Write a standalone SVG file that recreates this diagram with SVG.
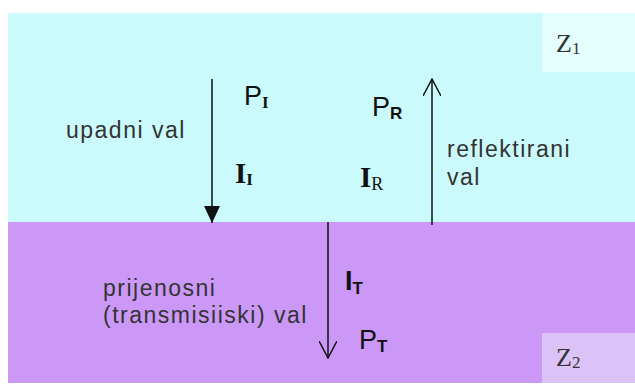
<svg xmlns="http://www.w3.org/2000/svg" width="635" height="385" viewBox="0 0 635 385">
<style>
.lbl{font-family:"Liberation Sans",Arial,sans-serif;font-size:23px;fill:#333;letter-spacing:1.5px}
.sym{font-family:"Liberation Sans",Arial,sans-serif;font-size:27px;fill:#111}
.ser{font-family:"Liberation Serif","Times New Roman",serif;fill:#111}
.sub{font-size:17px;font-weight:bold}
.z{font-family:"Liberation Serif","Times New Roman",serif;font-size:26px;fill:#333}
.conn{stroke:#111;stroke-width:1.5;fill:none}
</style>
<defs>
<marker id="open" viewBox="0 0 18 18" refX="17" refY="9" markerWidth="18" markerHeight="18" markerUnits="userSpaceOnUse" orient="auto">
<path d="M0,0 L17,9 L0,18" fill="none" stroke="#111" stroke-width="1.5"/>
</marker>
<marker id="fill" viewBox="0 0 17 16" refX="17" refY="8" markerWidth="17" markerHeight="16" markerUnits="userSpaceOnUse" orient="auto">
<path d="M0,0 L17,8 L0,16 Z" fill="#111"/>
</marker>
</defs>
<rect width="635" height="385" fill="#fff"/>
<g id="medium1">
<rect x="8" y="13" width="627" height="210" fill="#cbfafc"/>
<rect x="542" y="13" width="93" height="59" fill="#e4fdfd"/>
<text class="z" x="556" y="52">Z<tspan font-size="17" dy="2">1</tspan></text>
</g>
<g id="medium2">
<rect x="8" y="222" width="627" height="161" fill="#cb98f7"/>
<rect x="542" y="333" width="93" height="50" fill="#dcc3f7"/>
<text class="z" x="556" y="366">Z<tspan font-size="17" dy="2">2</tspan></text>
</g>
<g id="connectors">
<line class="conn" x1="212" y1="79" x2="212" y2="223" marker-end="url(#fill)"/>
<line class="conn" x1="432" y1="225" x2="432" y2="79" marker-end="url(#open)"/>
<line class="conn" x1="328" y1="222" x2="328" y2="358" marker-end="url(#open)"/>
</g>
<g id="incident">
<text class="lbl" x="66" y="138">upadni val</text>
<text class="sym" x="244" y="105">P<tspan class="ser sub" dy="3">I</tspan></text>
<text class="ser" x="235" y="183" font-size="29" font-weight="bold">I<tspan class="sub" dy="2">I</tspan></text>
</g>
<g id="reflected">
<text class="lbl" x="447" y="157">reflektirani</text>
<text class="lbl" x="447" y="185">val</text>
<text class="sym" x="372" y="116">P<tspan class="sub" font-size="15" dy="3">R</tspan></text>
<text class="ser" x="360" y="187" font-size="29" font-weight="bold">I<tspan font-size="18" font-weight="normal" dy="3">R</tspan></text>
</g>
<g id="transmitted">
<text class="lbl" x="103" y="296">prijenosni</text>
<text class="lbl" x="103" y="323">(transmisiiski) val</text>
<text class="sym" x="345" y="290" font-weight="bold">I<tspan class="sub" font-size="15" dy="4">T</tspan></text>
<text class="sym" x="359" y="349">P<tspan class="sub" font-size="15" dy="3">T</tspan></text>
</g>
</svg>
